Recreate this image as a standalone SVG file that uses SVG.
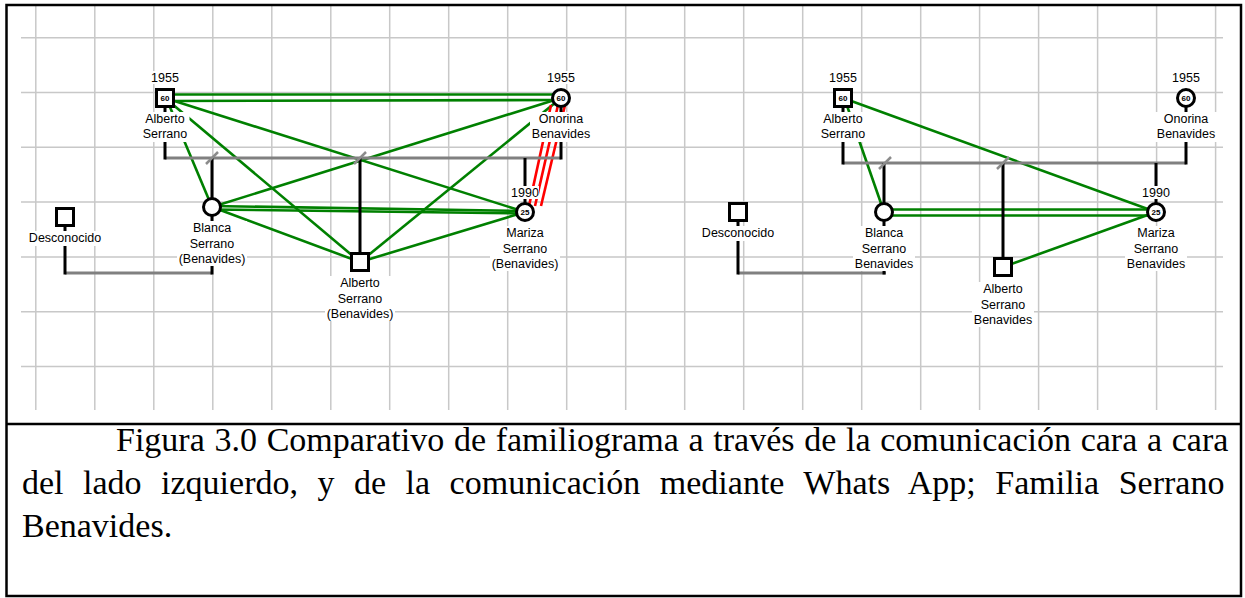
<svg xmlns="http://www.w3.org/2000/svg" width="1245" height="598" viewBox="0 0 1245 598">
<defs>
<style>
.grid{stroke:#c8c8c8;stroke-width:1.5;fill:none}
.frame{stroke:#000;stroke-width:2.5;fill:none}
.green{stroke:#008000;stroke-width:2.6;fill:none}
.red{stroke:#ff0000;stroke-width:2.6;fill:none}
.grey{stroke:#808080;stroke-width:3;fill:none}
.blk{stroke:#000;stroke-width:3;fill:none}
.slash{stroke:#8c8c8c;stroke-width:2.5;fill:none}
.node{fill:#fff;stroke:#000;stroke-width:3}
.lbg{fill:#fff}
.lbl{font-family:"Liberation Sans",Arial,sans-serif;font-size:12.5px;fill:#000;text-anchor:middle}
.age{font-family:"Liberation Sans",Arial,sans-serif;font-size:8px;font-weight:bold;fill:#000;text-anchor:middle}
.cap{font-family:"Liberation Serif","Times New Roman",serif;font-size:34px;fill:#000}
</style>
</defs>
<rect x="0" y="0" width="1245" height="598" fill="#fff"/>
<g id="grid">
<path class="grid" d="M35.8 5V410M94.8 5V410M153.8 5V410M212.8 5V410M271.8 5V410M330.8 5V410M389.7 5V410M448.7 5V410M507.7 5V410M566.7 5V410M625.7 5V410M684.7 5V410M743.7 5V410M802.7 5V410M861.7 5V410M920.7 5V410M979.6 5V410M1038.6 5V410M1097.6 5V410M1156.6 5V410M1215.6 5V410"/>
<path class="grid" d="M21 37.7H1223M21 92.5H1223M21 147.3H1223M21 202.1H1223M21 256.9H1223M21 311.7H1223M21 366.5H1223"/>
</g>
<g id="frame">
<rect class="frame" x="6.5" y="5" width="1234.5" height="591"/>
<line class="frame" x1="6.5" y1="424" x2="1241" y2="424"/>
</g>
<g id="connectors">
<!-- left panel emotional relations -->
<line class="green" x1="165" y1="94.5" x2="561" y2="94.5"/>
<line class="green" x1="165" y1="101" x2="556" y2="100"/>
<line class="green" x1="165" y1="98" x2="525" y2="212"/>
<line class="green" x1="165" y1="98" x2="360" y2="262"/>
<line class="green" x1="167" y1="100" x2="212" y2="207"/>
<line class="green" x1="212" y1="207" x2="561" y2="98"/>
<line class="green" x1="212" y1="206" x2="525" y2="211"/>
<line class="green" x1="212" y1="209.5" x2="525" y2="213.5"/>
<line class="green" x1="212" y1="207" x2="360" y2="262"/>
<line class="green" x1="561" y1="98" x2="360" y2="262"/>
<line class="green" x1="360" y1="262" x2="525" y2="212"/>
<line class="red" x1="551" y1="105" x2="529" y2="206"/>
<line class="red" x1="558" y1="105" x2="535" y2="206"/>
<line class="red" x1="565" y1="105" x2="541" y2="206"/>
<!-- left panel family lines -->
<line class="grey" x1="165" y1="158" x2="561" y2="158"/>
<line class="grey" x1="65" y1="273" x2="212" y2="273"/>
<line class="blk" x1="165" y1="98" x2="165" y2="159.5"/>
<line class="blk" x1="561" y1="98" x2="561" y2="159.5"/>
<line class="blk" x1="212" y1="158" x2="212" y2="274.5"/>
<line class="blk" x1="360" y1="158" x2="360" y2="262"/>
<line class="blk" x1="525" y1="158" x2="525" y2="212"/>
<line class="blk" x1="65" y1="217" x2="65" y2="274.5"/>
<line class="slash" x1="206" y1="164" x2="218" y2="152"/>
<line class="slash" x1="354" y1="164" x2="366" y2="152"/>
<!-- right panel emotional relations -->
<line class="green" x1="843" y1="98" x2="1156" y2="212"/>
<line class="green" x1="845" y1="100" x2="884" y2="212"/>
<line class="green" x1="884" y1="209.5" x2="1156" y2="209.5"/>
<line class="green" x1="884" y1="215.5" x2="1156" y2="215.5"/>
<line class="green" x1="1003" y1="267" x2="1156" y2="212"/>
<!-- right panel family lines -->
<line class="grey" x1="843" y1="163" x2="1186" y2="163"/>
<line class="grey" x1="738" y1="273" x2="886" y2="273"/>
<line class="blk" x1="843" y1="98" x2="843" y2="164.5"/>
<line class="blk" x1="1186" y1="98" x2="1186" y2="164.5"/>
<line class="blk" x1="884" y1="163" x2="884" y2="274.5"/>
<line class="blk" x1="1003" y1="163" x2="1003" y2="267"/>
<line class="blk" x1="1156" y1="163" x2="1156" y2="212"/>
<line class="blk" x1="738" y1="212" x2="738" y2="274.5"/>
<line class="slash" x1="879" y1="169" x2="891" y2="157"/>
<line class="slash" x1="997" y1="169" x2="1009" y2="157"/>
</g>
<g id="left-alberto">
<rect class="lbg" x="151" y="71" width="28" height="13"/>
<text class="lbl" x="165" y="81.5">1955</text>
<rect class="lbg" x="140.5" y="112" width="49" height="30"/>
<text class="lbl" x="165" y="123">Alberto</text>
<text class="lbl" x="165" y="138">Serrano</text>
<rect class="node" x="156.5" y="89.5" width="17" height="17"/>
<text class="age" x="165" y="101">60</text>
</g>
<g id="left-onorina">
<rect class="lbg" x="547" y="71" width="28" height="13"/>
<text class="lbl" x="561" y="81.5">1955</text>
<rect class="lbg" x="530" y="112" width="62" height="30"/>
<text class="lbl" x="561" y="123">Onorina</text>
<text class="lbl" x="561" y="138">Benavides</text>
<circle class="node" cx="561" cy="98" r="8.5"/>
<text class="age" x="561" y="101">60</text>
</g>
<g id="left-blanca">
<rect class="lbg" x="177" y="221" width="70" height="45"/>
<text class="lbl" x="212" y="232">Blanca</text>
<text class="lbl" x="212" y="247.5">Serrano</text>
<text class="lbl" x="212" y="263">(Benavides)</text>
<circle class="node" cx="212" cy="207" r="8.5"/>
</g>
<g id="left-alberto-jr">
<rect class="lbg" x="325" y="276" width="70" height="45"/>
<text class="lbl" x="360" y="287">Alberto</text>
<text class="lbl" x="360" y="302.5">Serrano</text>
<text class="lbl" x="360" y="318">(Benavides)</text>
<rect class="node" x="351.5" y="253.5" width="17" height="17"/>
</g>
<g id="left-mariza">
<rect class="lbg" x="511" y="186" width="28" height="13"/>
<text class="lbl" x="525" y="196.5">1990</text>
<rect class="lbg" x="490" y="226" width="70" height="45"/>
<text class="lbl" x="525" y="237">Mariza</text>
<text class="lbl" x="525" y="252.5">Serrano</text>
<text class="lbl" x="525" y="268">(Benavides)</text>
<circle class="node" cx="525" cy="212" r="8.5"/>
<text class="age" x="525" y="215">25</text>
</g>
<g id="left-desconocido">
<rect class="lbg" x="27" y="231" width="76" height="15"/>
<text class="lbl" x="65" y="242">Desconocido</text>
<rect class="node" x="56.5" y="208.5" width="17" height="17"/>
</g>
<g id="right-alberto">
<rect class="lbg" x="829" y="71" width="28" height="13"/>
<text class="lbl" x="843" y="81.5">1955</text>
<rect class="lbg" x="818.5" y="112" width="49" height="30"/>
<text class="lbl" x="843" y="123">Alberto</text>
<text class="lbl" x="843" y="138">Serrano</text>
<rect class="node" x="834.5" y="89.5" width="17" height="17"/>
<text class="age" x="843" y="101">60</text>
</g>
<g id="right-onorina">
<rect class="lbg" x="1172" y="71" width="28" height="13"/>
<text class="lbl" x="1186" y="81.5">1955</text>
<rect class="lbg" x="1155" y="112" width="62" height="30"/>
<text class="lbl" x="1186" y="123">Onorina</text>
<text class="lbl" x="1186" y="138">Benavides</text>
<circle class="node" cx="1186" cy="98" r="8.5"/>
<text class="age" x="1186" y="101">60</text>
</g>
<g id="right-blanca">
<rect class="lbg" x="853" y="226" width="62" height="45"/>
<text class="lbl" x="884" y="237">Blanca</text>
<text class="lbl" x="884" y="252.5">Serrano</text>
<text class="lbl" x="884" y="268">Benavides</text>
<circle class="node" cx="884" cy="212" r="8.5"/>
</g>
<g id="right-alberto-jr">
<rect class="lbg" x="972" y="282" width="62" height="45"/>
<text class="lbl" x="1003" y="293">Alberto</text>
<text class="lbl" x="1003" y="308.5">Serrano</text>
<text class="lbl" x="1003" y="324">Benavides</text>
<rect class="node" x="994.5" y="258.5" width="17" height="17"/>
</g>
<g id="right-mariza">
<rect class="lbg" x="1142" y="186" width="28" height="13"/>
<text class="lbl" x="1156" y="196.5">1990</text>
<rect class="lbg" x="1125" y="226" width="62" height="45"/>
<text class="lbl" x="1156" y="237">Mariza</text>
<text class="lbl" x="1156" y="252.5">Serrano</text>
<text class="lbl" x="1156" y="268">Benavides</text>
<circle class="node" cx="1156" cy="212" r="8.5"/>
<text class="age" x="1156" y="215">25</text>
</g>
<g id="right-desconocido">
<rect class="lbg" x="700" y="226" width="76" height="15"/>
<text class="lbl" x="738" y="237">Desconocido</text>
<rect class="node" x="729.5" y="203.5" width="17" height="17"/>
</g>
<g id="caption">
<text class="cap" x="116" y="451" word-spacing="1.2">Figura 3.0 Comparativo de familiograma a través de la comunicación cara a cara</text>
<text class="cap" x="22" y="494" word-spacing="11">del lado izquierdo, y de la comunicación mediante Whats App; Familia Serrano</text>
<text class="cap" x="22" y="537">Benavides.</text>
</g>
</svg>
